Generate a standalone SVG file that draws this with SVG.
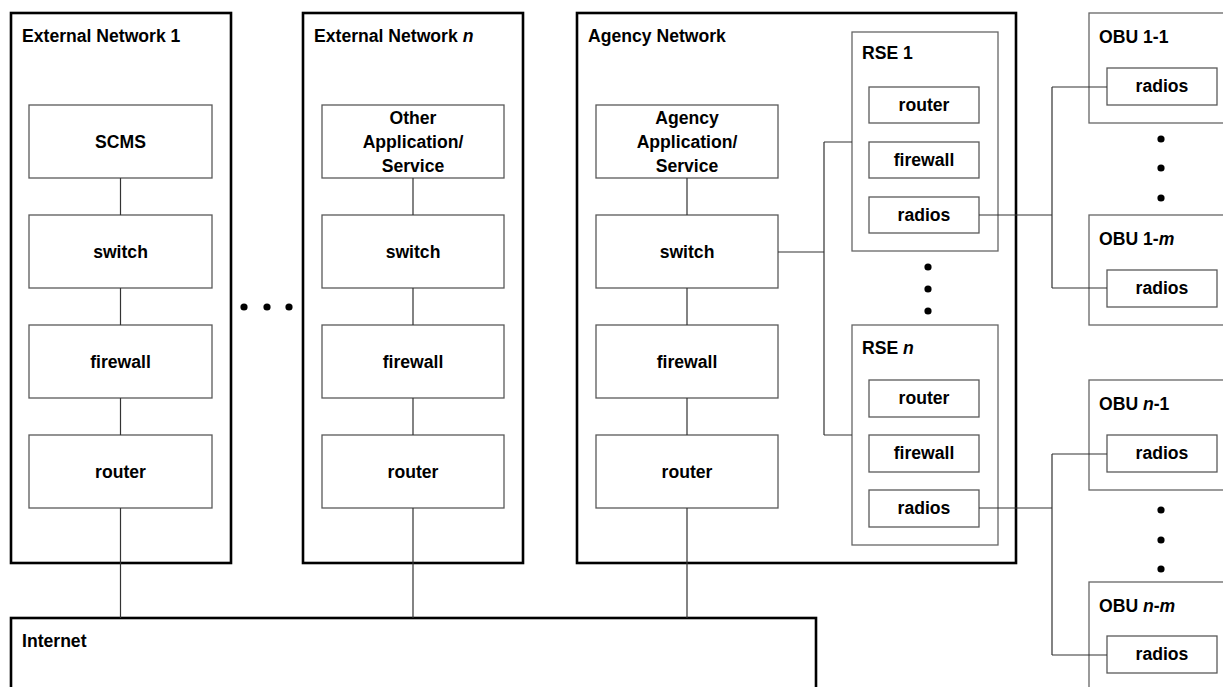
<svg xmlns="http://www.w3.org/2000/svg" width="1223" height="687" viewBox="0 0 1223 687">
  <style>
    text { font-family: "Liberation Sans", Arial, sans-serif; font-weight: bold; font-size: 17.6px; fill: #000; }
    .c { text-anchor: middle; }
    .net { fill: #fff; stroke: #000; stroke-width: 2.6; }
    .box { fill: #fff; stroke: #595959; stroke-width: 1.3; }
    .grp { fill: #fff; stroke: #666; stroke-width: 1.3; }
    .wire { fill: none; stroke: #333; stroke-width: 1.2; }
    .dot { fill: #000; }
    i, .it { font-style: italic; }
  </style>

  <!-- Internet -->
  <g id="internet">
    <rect class="net" x="11" y="618" width="805" height="90"/>
    <text x="22" y="647">Internet</text>
  </g>

  <!-- External Network 1 -->
  <g id="ext-net-1">
    <rect class="net" x="11" y="13" width="220" height="550"/>
    <text x="22" y="42">External Network 1</text>
  </g>
  <g id="scms"><rect class="box" x="29" y="105" width="183" height="73"/><text class="c" x="120.5" y="148">SCMS</text></g>
  <g id="ext1-switch"><rect class="box" x="29" y="215" width="183" height="73"/><text class="c" x="120.5" y="258">switch</text></g>
  <g id="ext1-firewall"><rect class="box" x="29" y="325" width="183" height="73"/><text class="c" x="120.5" y="368">firewall</text></g>
  <g id="ext1-router"><rect class="box" x="29" y="435" width="183" height="73"/><text class="c" x="120.5" y="478">router</text></g>

  <!-- ellipsis between external networks -->
  <g id="ext-ellipsis">
    <circle class="dot" cx="244" cy="307" r="3.6"/>
    <circle class="dot" cx="267" cy="307" r="3.6"/>
    <circle class="dot" cx="289" cy="307" r="3.6"/>
  </g>

  <!-- External Network n -->
  <g id="ext-net-n">
    <rect class="net" x="303" y="13" width="220" height="550"/>
    <text x="314" y="42">External Network <tspan class="it">n</tspan></text>
  </g>
  <g id="other-app">
    <rect class="box" x="322" y="105" width="182" height="73"/>
    <text class="c" x="413" y="123.5">Other</text>
    <text class="c" x="413" y="147.5">Application/</text>
    <text class="c" x="413" y="171.5">Service</text>
  </g>
  <g id="extn-switch"><rect class="box" x="322" y="215" width="182" height="73"/><text class="c" x="413" y="258">switch</text></g>
  <g id="extn-firewall"><rect class="box" x="322" y="325" width="182" height="73"/><text class="c" x="413" y="368">firewall</text></g>
  <g id="extn-router"><rect class="box" x="322" y="435" width="182" height="73"/><text class="c" x="413" y="478">router</text></g>

  <!-- Agency Network -->
  <g id="agency-net">
    <rect class="net" x="577" y="13" width="439" height="550"/>
    <text x="588" y="42">Agency Network</text>
  </g>
  <g id="agency-app">
    <rect class="box" x="596" y="105" width="182" height="73"/>
    <text class="c" x="687" y="123.5">Agency</text>
    <text class="c" x="687" y="147.5">Application/</text>
    <text class="c" x="687" y="171.5">Service</text>
  </g>
  <g id="agency-switch"><rect class="box" x="596" y="215" width="182" height="73"/><text class="c" x="687" y="258">switch</text></g>
  <g id="agency-firewall"><rect class="box" x="596" y="325" width="182" height="73"/><text class="c" x="687" y="368">firewall</text></g>
  <g id="agency-router"><rect class="box" x="596" y="435" width="182" height="73"/><text class="c" x="687" y="478">router</text></g>

  <!-- RSE 1 -->
  <g id="rse-1">
    <rect class="grp" x="852" y="32" width="146" height="219"/>
    <text x="862" y="59">RSE 1</text>
    <rect class="box" x="869" y="87" width="110" height="36"/><text class="c" x="924" y="111">router</text>
    <rect class="box" x="869" y="142" width="110" height="36"/><text class="c" x="924" y="166">firewall</text>
    <rect class="box" x="869" y="197" width="110" height="36"/><text class="c" x="924" y="221">radios</text>
  </g>

  <g id="rse-ellipsis">
    <circle class="dot" cx="928" cy="267" r="3.6"/>
    <circle class="dot" cx="928" cy="289" r="3.6"/>
    <circle class="dot" cx="928" cy="311" r="3.6"/>
  </g>

  <!-- RSE n -->
  <g id="rse-n">
    <rect class="grp" x="852" y="325" width="146" height="220"/>
    <text x="862" y="354">RSE <tspan class="it">n</tspan></text>
    <rect class="box" x="869" y="380" width="110" height="37"/><text class="c" x="924" y="404">router</text>
    <rect class="box" x="869" y="435" width="110" height="37"/><text class="c" x="924" y="459">firewall</text>
    <rect class="box" x="869" y="490" width="110" height="37"/><text class="c" x="924" y="514">radios</text>
  </g>

  <!-- On-board units -->
  <g id="obu-1-1">
    <rect class="grp" x="1089" y="13" width="160" height="110"/>
    <text x="1099" y="43">OBU 1-1</text>
    <rect class="box" x="1107" y="68" width="110" height="37"/><text class="c" x="1162" y="92">radios</text>
  </g>
  <g id="obu-1-ellipsis">
    <circle class="dot" cx="1161" cy="139" r="3.6"/>
    <circle class="dot" cx="1161" cy="168" r="3.6"/>
    <circle class="dot" cx="1161" cy="198" r="3.6"/>
  </g>
  <g id="obu-1-m">
    <rect class="grp" x="1089" y="215" width="160" height="110"/>
    <text x="1099" y="245">OBU 1-<tspan class="it">m</tspan></text>
    <rect class="box" x="1107" y="270" width="110" height="37"/><text class="c" x="1162" y="294">radios</text>
  </g>
  <g id="obu-n-1">
    <rect class="grp" x="1089" y="380" width="160" height="110"/>
    <text x="1099" y="410">OBU <tspan class="it">n</tspan>-1</text>
    <rect class="box" x="1107" y="435" width="110" height="37"/><text class="c" x="1162" y="459">radios</text>
  </g>
  <g id="obu-n-ellipsis">
    <circle class="dot" cx="1161" cy="510" r="3.6"/>
    <circle class="dot" cx="1161" cy="540" r="3.6"/>
    <circle class="dot" cx="1161" cy="569" r="3.6"/>
  </g>
  <g id="obu-n-m">
    <rect class="grp" x="1089" y="582" width="160" height="110"/>
    <text x="1099" y="612">OBU <tspan class="it">n</tspan>-<tspan class="it">m</tspan></text>
    <rect class="box" x="1107" y="636" width="110" height="37"/><text class="c" x="1162" y="660">radios</text>
  </g>

  <!-- Connectors -->
  <g id="connectors">
    <path class="wire" d="M120.5 178V215M120.5 288V325M120.5 398V435M120.5 508V618"/>
    <path class="wire" d="M413 178V215M413 288V325M413 398V435M413 508V618"/>
    <path class="wire" d="M687 178V215M687 288V325M687 398V435M687 508V618"/>
    <path class="wire" d="M778 252H824M824 142V435M824 142H852M824 435H852"/>
    <path class="wire" d="M979 215H1052M1052 87V288M1052 87H1107M1052 288H1107"/>
    <path class="wire" d="M979 508H1052M1052 454V655M1052 454H1107M1052 655H1107"/>
  </g>
</svg>
